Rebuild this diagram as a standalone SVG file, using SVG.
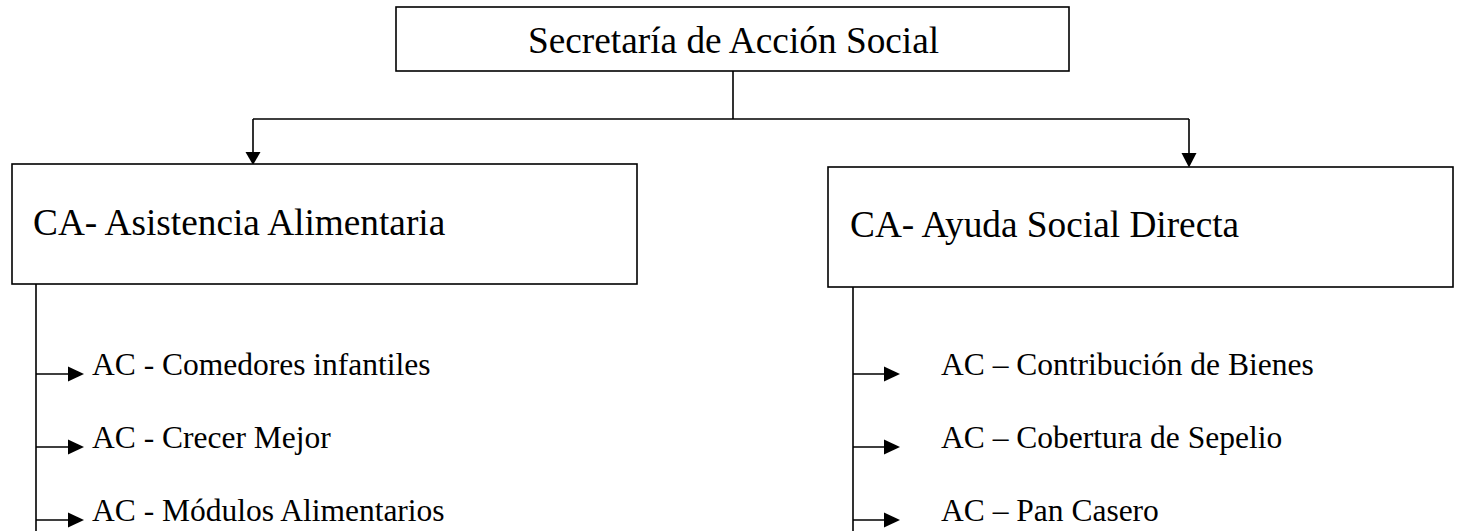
<svg xmlns="http://www.w3.org/2000/svg" width="1459" height="531" viewBox="0 0 1459 531">
<style>
.box{fill:#fff;stroke:#000;stroke-width:1.6}
.ln{fill:none;stroke:#000;stroke-width:1.6}
text{font-family:'Liberation Serif',Tinos,'Times New Roman',Times,'DejaVu Serif',serif;fill:#000}
.hd{font-size:37.3px}
.it{font-size:31.5px}
.ah{fill:#000;stroke:none}
</style>
<rect width="1459" height="531" fill="#fff"/>
<g id="connectors">
<path class="ln" d="M733 71V119M253 119H1189M253 119V153M1189 119V156"/>
<polygon class="ah" points="245.5,152 260.5,152 253,165"/>
<polygon class="ah" points="1181.5,153 1196.5,153 1189,167.5"/>
<path class="ln" d="M36 284V531M36 374H70M36 447H70M36 520H70"/>
<polygon class="ah" points="68,366.5 84,374 68,381.5"/>
<polygon class="ah" points="68,439.5 84,447 68,454.5"/>
<polygon class="ah" points="68,512.5 84,520 68,527.5"/>
<path class="ln" d="M853 287V531M853 374H886M853 447H886M853 520H886"/>
<polygon class="ah" points="884,366.5 900,374 884,381.5"/>
<polygon class="ah" points="884,439.5 900,447 884,454.5"/>
<polygon class="ah" points="884,512.5 900,520 884,527.5"/>
</g>
<g id="secretaria">
<rect class="box" x="396" y="7" width="673" height="64"/>
<text class="hd" x="528" y="53" font-family="Liberation Serif, serif">Secretaría de Acción Social</text>
</g>
<g id="asistencia">
<rect class="box" x="12" y="164" width="625" height="120"/>
<text class="hd" x="33" y="235" font-family="Liberation Serif, serif">CA- Asistencia Alimentaria</text>
</g>
<g id="ayuda">
<rect class="box" x="828" y="167" width="625" height="120"/>
<text class="hd" x="850" y="237" font-family="Liberation Serif, serif">CA- Ayuda Social Directa</text>
</g>
<g id="comedores"><text class="it" x="92" y="375" font-family="Liberation Serif, serif">AC - Comedores infantiles</text></g>
<g id="crecer"><text class="it" x="92" y="448" font-family="Liberation Serif, serif">AC - Crecer Mejor</text></g>
<g id="modulos"><text class="it" x="92" y="521" font-family="Liberation Serif, serif">AC - Módulos Alimentarios</text></g>
<g id="contribucion"><text class="it" x="941" y="375" font-family="Liberation Serif, serif">AC – Contribución de Bienes</text></g>
<g id="sepelio"><text class="it" x="941" y="448" font-family="Liberation Serif, serif">AC – Cobertura de Sepelio</text></g>
<g id="pan"><text class="it" x="941" y="521" font-family="Liberation Serif, serif">AC – Pan Casero</text></g>
</svg>
